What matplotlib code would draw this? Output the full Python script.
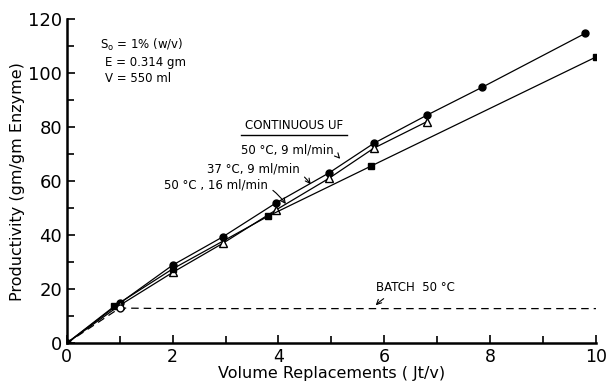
import numpy as np
from matplotlib import pyplot as plt

# 50 C, 9 ml/min (filled circles)
x_c50 = [0, 1.0, 2.0, 2.95, 3.95, 4.95, 5.8, 6.8, 7.85, 9.8]
y_c50 = [0, 14.8, 28.9, 39.4, 51.9, 63.0, 74.0, 84.4, 94.8, 114.8]

# 37 C, 9 ml/min (open triangles)
x_c37 = [0, 1.0, 2.0, 2.95, 3.95, 4.95, 5.8, 6.8]
y_c37 = [0, 14.0, 26.2, 37.0, 49.3, 61.0, 72.2, 82.0]

# 50 C, 16 ml/min (filled squares)
x_f16 = [0, 0.9, 2.0, 3.8, 5.75, 10.0]
y_f16 = [0, 13.7, 27.5, 47.0, 65.6, 106.0]

# batch 50 C (dashed)
x_batch = [0, 1.0, 2, 4, 6, 8, 10]
y_batch = [0, 13.0, 12.8, 12.8, 12.8, 12.8, 12.8]

plt.rcParams['font.family'] = 'DejaVu Sans'
fig = plt.figure(figsize=(6.07, 3.83), dpi=100)
ax = fig.add_axes([0.110, 0.104, 0.872, 0.846])

ax.plot(x_c50, y_c50, color='black', lw=0.9, marker='o', ms=5, mfc='black')
ax.plot(x_c37, y_c37, color='black', lw=0.9, marker='^', ms=6, mfc='white')
ax.plot(x_f16, y_f16, color='black', lw=0.9, marker='s', ms=5, mfc='black')
ax.plot(x_batch, y_batch, color='black', lw=0.9, ls=(0, (6, 4)))
ax.plot([1.0], [13.0], marker='o', ms=5, mfc='white', mec='black', ls='none')

ax.set_xlim(0, 10)
ax.set_ylim(0, 120)
ax.set_xticks(np.arange(0, 11, 2))
ax.set_xticks(np.arange(0, 11, 1), minor=True)
ax.set_yticks(np.arange(0, 121, 20))
ax.set_yticks(np.arange(0, 121, 10), minor=True)
ax.tick_params(which='both', direction='in', width=1.2, labelsize=13)
ax.tick_params(which='major', length=6)
ax.tick_params(which='minor', length=5)
ax.tick_params(axis='x', labelsize=12.5)
ax.spines['top'].set_visible(False)
ax.spines['right'].set_visible(False)
ax.spines['left'].set_linewidth(1.8)
ax.spines['bottom'].set_linewidth(1.8)

ax.set_xlabel('Volume Replacements ( Jt/v)', fontsize=11.5, labelpad=0)
ax.set_ylabel('Productivity (gm/gm Enzyme)', fontsize=11.5, labelpad=2)

ax.text(0.62, 110.5, 'S$_\\mathregular{o}$ = 1% (w/v)', fontsize=8.5, va='center')
ax.text(0.72, 104, 'E = 0.314 gm', fontsize=8.5, va='center')
ax.text(0.72, 98, 'V = 550 ml', fontsize=8.5, va='center')

ax.text(4.3, 80.5, 'CONTINUOUS UF', fontsize=8.5, ha='center', va='center')
ax.plot([3.3, 5.3], [77.2, 77.2], color='black', lw=1)

ax.annotate('50 °C, 9 ml/min', xy=(5.2, 67.5), xytext=(5.05, 71.5), fontsize=8.5,
            ha='right', va='center',
            arrowprops=dict(arrowstyle='->', color='black', lw=0.8,
                            connectionstyle='arc3,rad=-0.4'))
ax.annotate('37 °C, 9 ml/min', xy=(4.64, 58), xytext=(4.4, 64.5), fontsize=8.5,
            ha='right', va='center',
            arrowprops=dict(arrowstyle='->', color='black', lw=0.8,
                            connectionstyle='arc3,rad=-0.4'))
ax.annotate('50 °C , 16 ml/min', xy=(4.17, 50.7), xytext=(3.8, 58.5), fontsize=8.5,
            ha='right', va='center',
            arrowprops=dict(arrowstyle='->', color='black', lw=0.8,
                            connectionstyle='arc3,rad=-0.4'))
ax.annotate('BATCH  50 °C', xy=(5.8, 13.3), xytext=(5.85, 20.5), fontsize=8.5,
            ha='left', va='center',
            arrowprops=dict(arrowstyle='->', color='black', lw=0.8,
                            connectionstyle='arc3,rad=0.2'))

fig.savefig('out.png', dpi=100)
